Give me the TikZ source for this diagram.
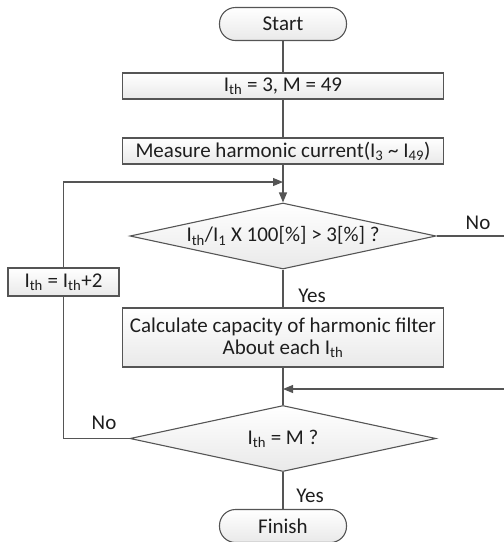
\documentclass[tikz,border=0pt]{standalone}
\usepackage{fontspec}
\setmainfont{Carlito}
\usetikzlibrary{positioning,arrows.meta,shapes.geometric}
\definecolor{lnc}{HTML}{555555}
\definecolor{txt}{HTML}{1E1E1E}
\definecolor{lgrey}{HTML}{E9E9E9}
\tikzset{
  every node/.append style={font=\fontsize{21}{22}\selectfont, text=txt},
  box/.style={draw=lnc, line width=1.1pt, top color=white, bottom color=lgrey,
              align=center, inner sep=2pt},
  term/.style={box, rounded corners=16pt, minimum width=127pt, minimum height=33pt},
  proc/.style={box, minimum width=321pt, minimum height=26pt},
  dec/.style={box, diamond, aspect=4.6, inner sep=0pt,
              minimum width=306pt, minimum height=66pt},
  lbl/.style={inner sep=0pt},
  ln/.style={draw=lnc, line width=1.1pt},
  arr/.style={ln, -{Triangle[length=10pt, width=8pt]}},
}
\begin{document}
\begin{tikzpicture}[x=1pt, y=-1pt]
  \useasboundingbox (0,0) rectangle (504,542);
  % main column
  \node[term] (start) at (283,24) {Start};
  \node[proc] (init) at (283,86) {I\textsubscript{th} = 3, M = 49};
  \node[proc] (meas) at (283,151)
    {Measure harmonic current(I\textsubscript{3} \textasciitilde{} I\textsubscript{49})};
  \node[dec] (chk) at (283,236)
    {I\textsubscript{th}/I\textsubscript{1} X 100[\%] > 3[\%] ?};
  \node[proc, minimum height=59pt] (calc) at (283,337.5)
    {Calculate capacity of harmonic filter\\About each I\textsubscript{th}};
  \node[dec] (last) at (283,438.5) {I\textsubscript{th} = M ?};
  \node[term] (finish) at (283,526) {Finish};
  % loop box
  \node[box, minimum width=111pt, minimum height=28pt] (inc) at (63.5,282)
    {I\textsubscript{th} = I\textsubscript{th}+2};
  \coordinate (join1) at (283,182);
  \coordinate (join2) at (283,389);
  \coordinate (outR) at (504,236);
  \coordinate (inR) at (504,389);
  % labels
  \node[lbl] (no1) at (478,223) {No};
  \node[lbl] (yes1) at (312,296) {Yes};
  \node[lbl] (no2) at (104,423) {No};
  \node[lbl] (yes2) at (310,496) {Yes};
  % connectors
  \draw[ln] (start) -- (init);
  \draw[ln] (init) -- (meas);
  \draw[arr] (meas) -- (chk);
  \draw[ln] (chk) -- (calc);
  \draw[ln] (chk.east) -- (outR);
  \draw[ln] (calc) -- (last);
  \draw[arr] (inR) -- (join2);
  \draw[ln] (last) -- (finish);
  \draw[ln] (last.west) -| (inc.south);
  \draw[arr] (inc.north) |- (join1);
\end{tikzpicture}
\end{document}
